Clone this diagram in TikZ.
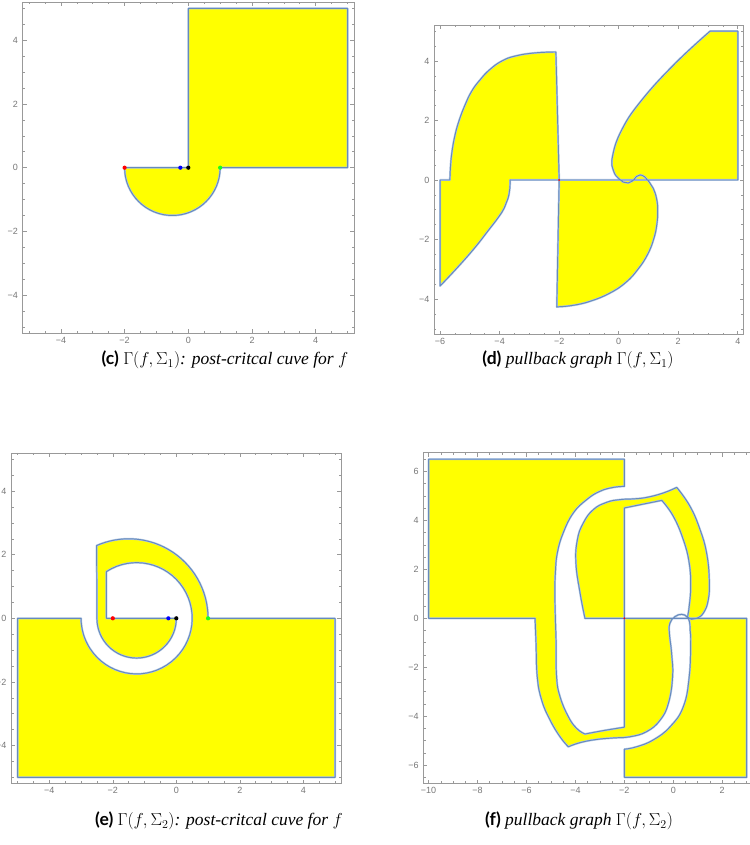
\documentclass[tikz,border=0pt]{standalone}
\usepackage{fontspec}
\newfontfamily\tickfont{Liberation Sans}
\newfontfamily\capserif{Liberation Serif}
\newfontfamily\capbold{Lato}
\definecolor{myyellow}{rgb}{1,1,0}
\definecolor{mblue}{rgb}{0.40,0.54,0.74}
\definecolor{mhalo}{rgb}{0.70,0.78,0.89}
\definecolor{framegray}{rgb}{0.60,0.60,0.60}
\definecolor{labelgray}{rgb}{0.47,0.47,0.47}
\definecolor{ptgreen}{rgb}{0.1,1,0.1}
\tikzset{
  halo/.style={draw=mhalo,line width=2.0pt,line join=round,line cap=round},
  core/.style={draw=mblue,line width=0.95pt,line join=round,line cap=round},
  yfill/.style={fill=myyellow},
  frm/.style={draw=framegray,line width=0.8pt},
  tck/.style={draw=framegray,line width=0.6pt},
  tlab/.style={font=\tickfont\fontsize{9}{10}\selectfont,text=labelgray,inner sep=0pt},
  capt/.style={font=\capserif\fontsize{17.5}{20}\selectfont,inner sep=0pt},
  dot/.style={circle,inner sep=0pt,minimum size=4.2pt},
  tinydot/.style={circle,inner sep=0pt,minimum size=2pt,fill=red},
  sm/.style={smooth,tension=0.75},
}
\newcommand\plotframe[8]{%
  \draw[frm] (#1,#3) rectangle (#2,#4);
  \foreach \n in {#5,...,#6}{%
    \pgfmathsetmacro\tv{\n/2}%
    \pgfmathsetmacro\tklen{ifthenelse(mod(abs(\n),4)==0,4,2.3)}%
    \draw[tck] (\tv,#3) -- ++(0,\tklen pt);
    \draw[tck] (\tv,#4) -- ++(0,-\tklen pt);
  }
  \foreach \n in {#7,...,#8}{%
    \pgfmathsetmacro\tv{\n/2}%
    \pgfmathsetmacro\tklen{ifthenelse(mod(abs(\n),4)==0,4,2.3)}%
    \draw[tck] (#1,\tv) -- ++(\tklen pt,0);
    \draw[tck] (#2,\tv) -- ++(-\tklen pt,0);
  }
}
\newcommand\xlabs[3]{\foreach \v/\s in {#2}{\node[tlab,anchor=north,yshift=-3.5pt] (#3\v) at (\v,#1) {\s};}}
\newcommand\ylabs[3]{\foreach \v/\s in {#2}{\node[tlab,anchor=east,xshift=-4.5pt] (#3\v) at (#1,\v) {\s};}}

% ---- curve data
\def\dUL{(-5.67,0) (-5.65,0.45) (-5.6,0.95) (-5.5,1.5) (-5.36,2.0) (-5.17,2.5) (-4.94,2.98) (-4.66,3.36) (-4.34,3.7) (-3.92,4.0) (-3.45,4.17) (-2.8,4.27) (-2.11,4.3)}
\def\dLL{(-3.65,0) (-3.66,-0.3) (-3.72,-0.62) (-3.84,-0.93) (-4.04,-1.25) (-4.4,-1.72) (-4.83,-2.27) (-5.39,-2.91) (-6,-3.56)}
\def\dC{(3.07,5) (1.89,3.91) (0.77,2.68) (0.1,1.68) (-0.21,0.78) (-0.17,0.3) (0.0,0.05) (0.15,-0.07) (0.32,-0.1) (0.47,-0.03) (0.6,0.12) (0.72,0.17) (0.88,0.1) (1.02,-0.06) (1.16,-0.28) (1.27,-0.62) (1.31,-1.0) (1.28,-1.5) (1.17,-2.0) (0.97,-2.5) (0.66,-2.98) (0.25,-3.43) (-0.3,-3.8) (-0.98,-4.08) (-1.6,-4.22) (-2.08,-4.26)}
\def\dCup{(3.07,5) (1.89,3.91) (0.77,2.68) (0.1,1.68) (-0.21,0.78) (-0.17,0.3) (0.0,0.05) (0.15,-0.07) (0.32,-0.1) (0.47,-0.03) (0.6,0.12) (0.72,0.17) (0.88,0.1) (1.0,0)}
\def\dClo{(-2.08,-4.26) (-1.6,-4.22) (-0.98,-4.08) (-0.3,-3.8) (0.25,-3.43) (0.66,-2.98) (0.97,-2.5) (1.17,-2.0) (1.28,-1.5) (1.31,-1.0) (1.27,-0.62) (1.16,-0.28) (1.02,-0.06) (0.88,0.1) (0.72,0.17) (0.6,0.12) (0.5,0)}
\def\fA{(-2,5.39) (-2.45,5.35) (-3.0,5.19) (-3.54,4.85) (-4.09,4.30) (-4.5,3.49) (-4.74,2.67) (-4.82,1.85) (-4.84,1.04) (-4.82,0) (-4.79,-1.02) (-4.77,-2.39) (-4.63,-3.2) (-4.29,-4.02) (-3.95,-4.5) (-3.61,-4.73)}
\def\fAbot{(-3.61,-4.73) (-2.86,-4.59) (-2,-4.45)}
\def\fItop{(-2,4.51) (-1.36,4.64) (-0.47,4.82)}
\def\fIright{(-0.47,4.82) (0,4.17) (0.41,3.21) (0.65,2.26) (0.71,1.3) (0.65,0.49) (0.58,0.05)}
\def\fBand{(-5.65,0) (-5.61,-1.02) (-5.56,-2.39) (-5.38,-3.34) (-5.04,-4.15) (-4.63,-4.84) (-4.29,-5.25)}
\def\fS{(-4.29,-5.25) (-3.81,-5.08) (-3.13,-4.95) (-2.45,-4.89) (-1.77,-4.84) (-1.09,-4.63) (-0.54,-4.16) (-0.2,-3.47) (-0.03,-2.39) (-0.07,-1.43) (-0.16,-0.61) (-0.14,-0.2) (0.07,0.07) (0.34,0.16) (0.55,0.07) (0.66,-0.13) (0.69,-0.5) (0.71,-1.02) (0.65,-2.39) (0.41,-3.61) (-0.13,-4.43) (-0.82,-4.97) (-1.5,-5.25) (-2,-5.35)}
\def\fSleft{(-0.05,0) (-0.14,-0.2) (-0.16,-0.61) (-0.07,-1.43) (-0.03,-2.39) (-0.2,-3.47) (-0.54,-4.16) (-1.09,-4.63) (-1.77,-4.84) (-2.45,-4.89) (-3.13,-4.95) (-3.81,-5.08) (-4.29,-5.25)}
\def\fBandUp{(-4.29,-5.25) (-4.63,-4.84) (-5.04,-4.15) (-5.38,-3.34) (-5.56,-2.39) (-5.61,-1.02) (-5.65,0)}
\def\fSright{(0.67,0) (0.69,-0.5) (0.71,-1.02) (0.65,-2.39) (0.41,-3.61) (-0.13,-4.43) (-0.82,-4.97) (-1.5,-5.25) (-2,-5.35)}
\def\fB{(-3.61,0) (-3.81,1.03) (-3.98,2.26) (-3.92,3.21) (-3.68,3.89) (-3.27,4.44) (-2.72,4.74) (-2.18,4.85) (-1.63,4.88) (-1.09,4.94) (-0.41,5.12) (0.14,5.35)}
\def\fO{(0.14,5.35) (0.68,4.58) (1.09,3.63) (1.36,2.67) (1.47,1.58) (1.43,0.76) (1.23,0.22) (0.96,0.0) (0.75,-0.04) (0.58,0.05)}
\def\fIrightRev{(0.58,0.05) (0.65,0.49) (0.71,1.3) (0.65,2.26) (0.41,3.21) (0,4.17) (-0.47,4.82)}
\def\fItopRev{(-0.47,4.82) (-1.36,4.64) (-2,4.51)}

% stroke paths
\newcommand\cpaths[1]{%
  \draw[#1] (0,5) -- (5,5) -- (5,0) -- (1,0) arc[start angle=0,end angle=-180,radius=1.5] -- (0,0) -- cycle;}
\newcommand\epaths[1]{%
  \draw[#1] (1,0) arc[start angle=0,end angle=113.8,radius=2.5] -- (-2.5,0)
     arc[start angle=180,end angle=360,radius=1.25] -- (-2.2,0) -- (-2.2,1.47)
     arc[start angle=122.9,end angle=-180,radius=1.75] -- (-5,0) -- (-5,-5) -- (5,-5) -- (5,0) -- cycle;}
\newcommand\dpaths[1]{%
  \draw[#1] plot[sm] coordinates {\dLL} -- (-6,0) -- (-5.67,0)
     -- plot[sm] coordinates {\dUL} -- (-2,0) -- (-2.08,-4.26);
  \draw[#1] (-3.65,0) -- (4,0) -- (4,5) -- (3.07,5) -- plot[sm] coordinates {\dC};}
\newcommand\fpaths[1]{%
  \draw[#1] (-5.65,0) -- (-10,0) -- (-10,6.5) -- (-2,6.5) -- (-2,5.39)
     -- plot[sm] coordinates {\fA} -- plot[sm] coordinates {\fAbot}
     -- (-2,4.51) -- plot[sm] coordinates {\fItop} -- plot[sm] coordinates {\fIright};
  \draw[#1] plot[sm] coordinates {\fBand} -- plot[sm] coordinates {\fS}
     -- (-2,-6.5) -- (3,-6.5) -- (3,0) -- (-3.61,0);
  \draw[#1] plot[sm] coordinates {\fB} -- plot[sm] coordinates {\fO};}

\begin{document}
\begin{tikzpicture}[x=1pt,y=1pt]
\useasboundingbox (0,0) rectangle (749,-845);
\fill[white] (0,0) rectangle (749,-845);

% ---------------- (c)
\begin{scope}[shift={(188.3pt,-167.7pt)},x=31.85pt,y=31.85pt]
  \plotframe{-5.2}{5.2}{-5.2}{5.2}{-10}{10}{-10}{10}
  \xlabs{-5.2}{-4/−4,-2/−2,0/0,2/2,4/4}{cx}
  \ylabs{-5.2}{-4/−4,-2/−2,0/0,2/2,4/4}{cy}
  \fill[yfill] (0,5) -- (5,5) -- (5,0) -- (1,0) arc[start angle=0,end angle=-180,radius=1.5] -- (0,0) -- cycle;
  \cpaths{halo}\cpaths{core}
  \node[dot,fill=red] (cred) at (-2,0) {};
  \node[dot,fill=blue] (cblue) at (-0.25,0) {};
  \node[dot,fill=black] (cblack) at (0,0) {};
  \node[dot,fill=ptgreen] (cgreen) at (1,0) {};
\end{scope}

% ---------------- (d)
\begin{scope}[shift={(618.7pt,-180pt)},x=29.77pt,y=29.77pt]
  \plotframe{-6.2}{4.2}{-5.2}{5.2}{-12}{8}{-10}{10}
  \xlabs{-5.2}{-6/−6,-4/−4,-2/−2,0/0,2/2,4/4}{dx}
  \ylabs{-6.2}{-4/−4,-2/−2,0/0,2/2,4/4}{dy}
  \fill[yfill] (-6,-3.56) -- (-6,0) -- (-5.67,0) -- plot[sm] coordinates {\dUL}
     -- (-2,0) -- (-3.65,0) -- plot[sm] coordinates {\dLL} -- cycle;
  \fill[yfill] (-2,0) -- (-2.08,-4.26) -- plot[sm] coordinates {\dClo} -- cycle;
  \fill[yfill] (4,0) -- (4,5) -- (3.07,5) -- plot[sm] coordinates {\dCup} -- cycle;
  \dpaths{halo}\dpaths{core}
  \node[tinydot] (dred) at (-2,0) {};
\end{scope}

% ---------------- (e)
\begin{scope}[shift={(176.3pt,-618.3pt)},x=31.75pt,y=31.8pt]
  \plotframe{-5.2}{5.2}{-5.2}{5.2}{-10}{10}{-10}{10}
  \xlabs{-5.2}{-4/−4,-2/−2,0/0,2/2,4/4}{ex}
  \ylabs{-5.2}{-4/−4,-2/−2,0/0,2/2,4/4}{ey}
  \fill[yfill] (1,0) arc[start angle=0,end angle=113.8,radius=2.5] -- (-2.5,0)
     arc[start angle=180,end angle=360,radius=1.25] -- (-2.2,0) -- (-2.2,1.47)
     arc[start angle=122.9,end angle=-180,radius=1.75] -- (-5,0) -- (-5,-5) -- (5,-5) -- (5,0) -- cycle;
  \epaths{halo}\epaths{core}
  \node[dot,fill=red] (ered) at (-2,0) {};
  \node[dot,fill=blue] (eblue) at (-0.25,0) {};
  \node[dot,fill=black] (eblack) at (0,0) {};
  \node[dot,fill=ptgreen] (egreen) at (1,0) {};
\end{scope}

% ---------------- (f)
\begin{scope}[shift={(673.3pt,-618.3pt)},x=24.47pt,y=24.47pt]
  \plotframe{-10.22}{3.3}{-6.76}{6.76}{-20}{6}{-13}{13}
  \xlabs{-6.76}{-10/−10,-8/−8,-6/−6,-4/−4,-2/−2,0/0,2/2}{fx}
  \ylabs{-10.22}{-6/−6,-4/−4,-2/−2,0/0,2/2,4/4,6/6}{fy}
  \fill[yfill] (-10,0) -- (-10,6.5) -- (-2,6.5) -- (-2,5.39)
     -- plot[sm] coordinates {\fA} -- plot[sm] coordinates {\fAbot}
     -- (-2,0) -- (-0.05,0) -- plot[sm] coordinates {\fSleft}
     -- plot[sm] coordinates {\fBandUp} -- cycle;
  \fill[yfill] (-3.61,0) -- plot[sm] coordinates {\fB} -- plot[sm] coordinates {\fO}
     -- plot[sm] coordinates {\fIrightRev} -- plot[sm] coordinates {\fItopRev}
     -- (-2,0) -- cycle;
  \fill[yfill] (-2,-5.35) -- (-2,-6.5) -- (3,-6.5) -- (3,0) -- (0.67,0)
     -- plot[sm] coordinates {\fSright} -- cycle;
  \fpaths{halo}\fpaths{core}
  \node[tinydot] (fred) at (-2,0) {};
\end{scope}

% ---------------- captions
\node[capt] (capc) at (225,-360) {{\capbold\bfseries (c)} $\Gamma(f,\Sigma_1)$\textit{: post-critcal cuve for} $f$};
\node[capt] (capd) at (578,-360) {{\capbold\bfseries (d)} \textit{pullback graph} $\Gamma(f,\Sigma_1)$};
\node[capt] (cape) at (219,-821) {{\capbold\bfseries (e)} $\Gamma(f,\Sigma_2)$\textit{: post-critcal cuve for} $f$};
\node[capt] (capf) at (579,-821) {{\capbold\bfseries (f)} \textit{pullback graph} $\Gamma(f,\Sigma_2)$};
\end{tikzpicture}
\end{document}
